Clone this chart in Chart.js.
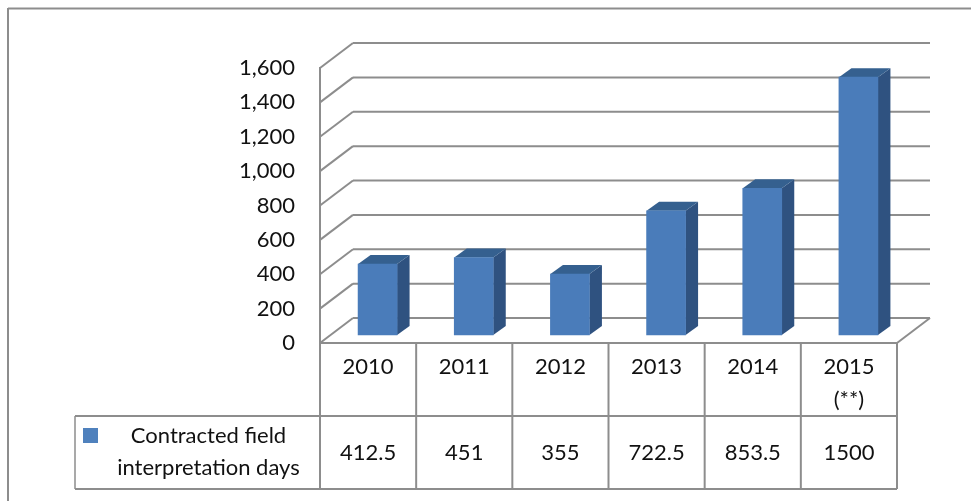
<!DOCTYPE html>
<html>
<head>
<meta charset="utf-8">
<style>html,body{margin:0;padding:0;background:#fff}canvas{display:block}</style>
<script src="https://cdn.jsdelivr.net/npm/chart.js@4/dist/chart.umd.min.js"></script>
</head>
<body>
<canvas id="c" width="971" height="501"></canvas>
<script>
const categories = ['2010','2011','2012','2013','2014',['2015','(**)']];
const days = [412.5,451,355,722.5,853.5,1500];
const seriesName = ['Contracted field','interpretation days'];
const yTicks = [0,200,400,600,800,1000,1200,1400,1600];

const FONT = 'Lato';
const FONT_SIZE = 22;
const GRID = '#8d8d8d';
const TEXT = '#111111';
const FRONT = '#4a7cba', SIDE = '#2f5280', TOP = '#35608f', KEY = '#4f81bd';
const WALL_DX = 33, WALL_DY = -25;
const BAR_DX = 9.5, BAR_DY = -8;
const SIDE_DX = 12.5, SIDE_DY = -9;
const TABLE_LEFT = 75, ROW1_BOTTOM = 416, ROW2_BOTTOM = 489;

function line(ctx,x1,y1,x2,y2,w){
  ctx.beginPath();ctx.lineWidth=w||2;ctx.strokeStyle=GRID;ctx.moveTo(x1,y1);ctx.lineTo(x2,y2);ctx.stroke();
}

const chrome = {
  id:'chrome',
  beforeDatasetsDraw(chart){
    const {ctx,chartArea:a,scales:{x,y}} = chart;
    ctx.save();
    // outer frame
    line(ctx,8,8.5,971,8.5,2);
    line(ctx,8,8,8,501,2);
    // walls
    yTicks.forEach(v=>{
      const p=y.getPixelForValue(v);
      line(ctx,a.left,p,a.left+WALL_DX,p+WALL_DY);
      line(ctx,a.left+WALL_DX,p+WALL_DY,a.right+WALL_DX,p+WALL_DY);
    });
    line(ctx,a.left,a.top-1,a.left,a.bottom+1);
    line(ctx,a.right,a.bottom,a.right+WALL_DX,a.bottom+WALL_DY);
    line(ctx,a.left,a.bottom,a.right,a.bottom);
    // table
    const step=(a.right-a.left)/categories.length;
    for(let i=0;i<=categories.length;i++){
      const px=a.left+step*i;
      line(ctx,px,a.bottom,px,ROW2_BOTTOM);
    }
    line(ctx,TABLE_LEFT,ROW1_BOTTOM,a.right,ROW1_BOTTOM);
    line(ctx,TABLE_LEFT,ROW2_BOTTOM,a.right,ROW2_BOTTOM);
    line(ctx,TABLE_LEFT,ROW1_BOTTOM,TABLE_LEFT,ROW2_BOTTOM,1.5);
    // table text
    ctx.fillStyle=TEXT;ctx.font=FONT_SIZE+'px '+FONT;ctx.textAlign='center';ctx.textBaseline='middle';
    days.forEach((v,i)=>ctx.fillText(String(v),x.getPixelForValue(i),453));
    ctx.fillText(seriesName[0],208.5,436);
    ctx.fillText(seriesName[1],208.5,468);
    ctx.fillStyle=KEY;ctx.fillRect(83,428,15,15);
    // bar side and top faces
    const meta=chart.getDatasetMeta(0);
    meta.data.forEach(b=>{
      const hw=b.width/2, l=b.x-hw+BAR_DX, r=b.x+hw+BAR_DX, t=b.y+BAR_DY, bt=b.base+BAR_DY;
      ctx.fillStyle=SIDE;ctx.beginPath();
      ctx.moveTo(r,t);ctx.lineTo(r+SIDE_DX,t+SIDE_DY);ctx.lineTo(r+SIDE_DX,bt+SIDE_DY);ctx.lineTo(r,bt);ctx.closePath();ctx.fill();
      ctx.fillStyle=TOP;ctx.beginPath();
      ctx.moveTo(l,t);ctx.lineTo(l+SIDE_DX,t+SIDE_DY);ctx.lineTo(r+SIDE_DX,t+SIDE_DY);ctx.lineTo(r,t);ctx.closePath();ctx.fill();
    });
    ctx.restore();
    ctx.save();
    ctx.translate(BAR_DX,BAR_DY);
  },
  afterDatasetsDraw(chart){ chart.ctx.restore(); }
};

new Chart(document.getElementById('c'),{
  type:'bar',
  data:{labels:categories,datasets:[{label:seriesName.join(' '),data:days,backgroundColor:FRONT,borderWidth:0,barThickness:39,clip:false}]},
  plugins:[chrome],
  options:{
    responsive:false,animation:false,devicePixelRatio:1,
    layout:{padding:{left:0,top:68,right:74,bottom:0}},
    plugins:{legend:{display:false},title:{display:false},tooltip:{enabled:false}},
    scales:{
      x:{
        grid:{display:false,drawTicks:false},border:{display:false},
        ticks:{color:TEXT,font:{family:FONT,size:FONT_SIZE,lineHeight:1.47},padding:8,maxRotation:0,minRotation:0,autoSkip:false},
        afterFit(s){s.height=158;}
      },
      y:{
        min:0,max:1600,
        grid:{display:false,drawTicks:false},border:{display:false},
        ticks:{color:TEXT,font:{family:FONT,size:FONT_SIZE},padding:25,autoSkip:false},
        afterBuildTicks(s){s.ticks=yTicks.map(v=>({value:v}));},
        afterFit(s){s.width=320;}
      }
    }
  }
});
</script>
</body>
</html>
